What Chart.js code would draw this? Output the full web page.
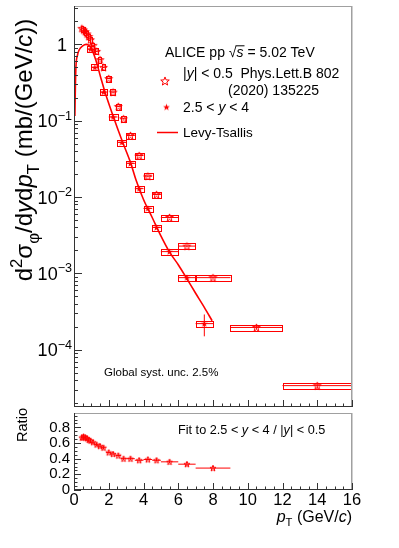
<!DOCTYPE html>
<html>
<head>
<meta charset="utf-8">
<title>phi cross section pp 5.02 TeV</title>
<script src="https://cdn.jsdelivr.net/npm/chart.js@4.4.1/dist/chart.umd.min.js"></script>
<style>
  body { margin: 0; background: #fff; }
  #wrap { position: relative; width: 399px; height: 548px; }
  canvas { position: absolute; left: 0; }
  #top { top: 0; }
  #bot { top: 400px; }
</style>
</head>
<body>
<div id="wrap">
  <canvas id="top" width="399" height="412"></canvas>
  <canvas id="bot" width="399" height="148"></canvas>
</div>
<script>
// |y| < 0.5, Phys.Lett.B 802 (2020) 135225
const midPt   = [0.45, 0.55, 0.65, 0.75, 0.85, 0.95, 1.1, 1.3, 1.5, 1.7, 2.0, 2.25, 2.55, 2.85, 3.25, 3.75, 4.25, 4.75, 5.5, 6.5, 8, 10.5, 14];
const midHalf = [0.05, 0.05, 0.05, 0.05, 0.05, 0.05, 0.1, 0.1, 0.1, 0.1, 0.15, 0.15, 0.15, 0.15, 0.25, 0.25, 0.25, 0.25, 0.5, 0.5, 1, 1.5, 2];
const midVal  = [1.62, 1.55, 1.47, 1.37, 1.27, 1.15, 0.97, 0.81, 0.63, 0.50, 0.357, 0.237, 0.154, 0.106, 0.064, 0.035, 0.0188, 0.0108, 0.0054, 0.00228, 0.00088, 0.000196, 0.0000339];
const midStat = [0.03, 0.03, 0.03, 0.03, 0.02, 0.02, 0.02, 0.015, 0.012, 0.01, 0.007, 0.005, 0.003, 0.002, 0.0013, 0.0007, 0.0004, 0.00025, 0.00012, 0.00006, 0.00003, 0.00001, 0.000003];
const midSys  = [0.14, 0.14, 0.13, 0.12, 0.11, 0.10, 0.087, 0.073, 0.057, 0.045, 0.032, 0.021, 0.014, 0.0095, 0.0058, 0.0032, 0.0017, 0.001, 0.0005, 0.0002, 0.00008, 0.000018, 0.000003];

// 2.5 < y < 4
const fwdPt   = [0.95, 1.2, 1.7, 2.25, 2.75, 3.25, 3.75, 4.25, 4.75, 5.5, 6.5, 7.5];
const fwdHalf = [0.2, 0.2, 0.2, 0.25, 0.25, 0.25, 0.25, 0.25, 0.25, 0.5, 0.5, 0.5];
const fwdVal  = [0.865, 0.50, 0.237, 0.112, 0.052, 0.0276, 0.0129, 0.0071, 0.0040, 0.00193, 0.00088, 0.00022];
const fwdStat = [0.01, 0.006, 0.003, 0.0015, 0.0008, 0.0005, 0.0003, 0.0002, 0.00012, 0.00007, 0.00006, 0.00007];
const fwdSys  = [0.078, 0.045, 0.021, 0.01, 0.0047, 0.0025, 0.0012, 0.00064, 0.00036, 0.00017, 0.00008, 0.00002];

// Levy-Tsallis fit
const fitPt  = [0.05, 0.08, 0.11, 0.2, 0.3, 0.5, 0.7, 0.85, 1.0, 1.25, 1.55, 1.8, 2.27, 2.79, 3.27, 3.56, 4.0, 4.5, 5.0, 5.5, 6.0, 6.5, 7.0, 7.5, 7.95];
const fitVal = [0.115, 0.28, 0.5, 0.72, 0.85, 0.955, 1.0, 0.97, 0.88, 0.63, 0.36, 0.23, 0.112, 0.053, 0.0276, 0.017, 0.0093, 0.0054, 0.0031, 0.0019, 0.0013, 0.00085, 0.00055, 0.00036, 0.00024];

// ratio fit(2.5<y<4) / data(|y|<0.5)
const ratioPt   = [0.45, 0.55, 0.65, 0.75, 0.85, 0.95, 1.1, 1.3, 1.5, 1.7, 2.0, 2.25, 2.55, 2.85, 3.25, 3.75, 4.25, 4.75, 5.5, 6.5, 8];
const ratioHalf = [0.05, 0.05, 0.05, 0.05, 0.05, 0.05, 0.1, 0.1, 0.1, 0.1, 0.15, 0.15, 0.15, 0.15, 0.25, 0.25, 0.25, 0.25, 0.5, 0.5, 1];
const ratioVal  = [0.67, 0.68, 0.67, 0.66, 0.64, 0.63, 0.61, 0.58, 0.56, 0.54, 0.48, 0.46, 0.44, 0.40, 0.40, 0.38, 0.39, 0.38, 0.36, 0.33, 0.28];
const ratioErr  = [0.04, 0.04, 0.04, 0.035, 0.03, 0.03, 0.025, 0.02, 0.02, 0.02, 0.015, 0.015, 0.015, 0.015, 0.015, 0.015, 0.015, 0.015, 0.015, 0.025, 0.015];

const yDecades = [1, 0.1, 0.01, 0.001, 0.0001];
const yDecadeExp = ['', '\u22121', '\u22122', '\u22123', '\u22124'];
const ratioTicks = [0, 0.2, 0.4, 0.6, 0.8];

const RED = '#ff0000';
const FONT = '"Liberation Sans", Arial, sans-serif';
const AXIS = '#333';
const EDGE = '#a0a0a0';

function starImage(r, filled) {
  const s = Math.ceil(2 * r + 3);
  const c = document.createElement('canvas');
  c.width = s; c.height = s;
  const g = c.getContext('2d');
  g.translate(s / 2, s / 2 + r * 0.1);
  g.beginPath();
  for (let i = 0; i < 10; i++) {
    const rr = i % 2 ? r * 0.42 : r;
    const a = -Math.PI / 2 + i * Math.PI / 5;
    g.lineTo(rr * Math.cos(a), rr * Math.sin(a));
  }
  g.closePath();
  if (filled) { g.fillStyle = RED; g.fill(); }
  else { g.strokeStyle = RED; g.lineWidth = 1; g.stroke(); }
  return c;
}
const openStar = starImage(4, false);
const legendStar = starImage(4.5, false);
const fullStar = starImage(3.6, true);
const smallStar = starImage(3.2, false);

// text with sub/superscripts: parts = [[text, kind]], kind '', 'i', 'sup', 'sub', 'ov'
function rich(ctx, x, y, parts, size, align) {
  const fontOf = k => {
    const small = k === 'sup' || k === 'sub';
    const it = (k === 'i' || k === 'ov') ? 'italic ' : '';
    return it + (small ? size * 0.7 : size) + 'px ' + FONT;
  };
  let w = 0;
  for (const [t, k] of parts) { ctx.font = fontOf(k); w += ctx.measureText(t).width; }
  let cx = align === 'right' ? x - w : align === 'center' ? x - w / 2 : x;
  for (const [t, k] of parts) {
    ctx.font = fontOf(k);
    const dy = k === 'sup' ? -size * 0.42 : k === 'sub' ? size * 0.3 : 0;
    const tw = ctx.measureText(t).width;
    ctx.fillText(t, cx, y + dy);
    if (k === 'ov') ctx.fillRect(cx - 1, y - size * 0.8, tw + 2, 1);
    cx += tw;
  }
}

function line(ctx, x0, y0, x1, y1) {
  ctx.beginPath(); ctx.moveTo(x0, y0); ctx.lineTo(x1, y1); ctx.stroke();
}

function drawErrors(ctx, xs, ys, pt, half, val, stat, sys) {
  ctx.strokeStyle = RED;
  ctx.lineWidth = 1;
  for (let i = 0; i < pt.length; i++) {
    const xl = xs.getPixelForValue(pt[i] - half[i]);
    const xr = xs.getPixelForValue(pt[i] + half[i]);
    const xc = xs.getPixelForValue(pt[i]);
    const yc = ys.getPixelForValue(val[i]);
    if (sys) {
      const yt = ys.getPixelForValue(val[i] + sys[i]);
      const yb = ys.getPixelForValue(val[i] - sys[i]);
      ctx.strokeRect(Math.round(xl) + 0.5, Math.round(yt) + 0.5, Math.round(xr - xl), Math.round(yb - yt));
    }
    line(ctx, xl, yc, xr, yc);
    line(ctx, xc, ys.getPixelForValue(val[i] + stat[i]), xc, ys.getPixelForValue(val[i] - stat[i]));
  }
}

function frame(ctx, a) {
  ctx.lineWidth = 1;
  ctx.strokeStyle = EDGE;
  line(ctx, a.left, a.top + 0.5, a.right, a.top + 0.5);
  ctx.lineWidth = 1.5;
  line(ctx, a.right - 0.25, a.top, a.right - 0.25, a.bottom);
  ctx.lineWidth = 1;
  ctx.strokeStyle = AXIS;
  line(ctx, a.left + 0.5, a.top, a.left + 0.5, a.bottom);
  line(ctx, a.left, a.bottom - 0.5, a.right, a.bottom - 0.5);
}

function xTicks(ctx, xs, a) {
  ctx.strokeStyle = AXIS;
  ctx.lineWidth = 1;
  for (let v = 0; v <= 16; v += 0.5) {
    const p = Math.round(xs.getPixelForValue(v)) + 0.5;
    const len = v % 2 === 0 ? 7 : 3.5;
    line(ctx, p, a.bottom, p, a.bottom - len);
  }
}

const topPlugin = {
  id: 'topPlugin',
  beforeDatasetsDraw(chart) {
    const { ctx, chartArea: a, scales: { x, y } } = chart;
    ctx.save();
    ctx.beginPath(); ctx.rect(a.left, a.top, a.right - a.left, a.bottom - a.top); ctx.clip();
    drawErrors(ctx, x, y, midPt, midHalf, midVal, midStat, midSys);
    drawErrors(ctx, x, y, fwdPt, fwdHalf, fwdVal, fwdStat, fwdSys);
    ctx.restore();
  },
  afterDraw(chart) {
    const { ctx, chartArea: a, scales: { x, y } } = chart;
    ctx.save();
    frame(ctx, a);
    xTicks(ctx, x, a);
    // log y ticks
    ctx.strokeStyle = AXIS;
    for (let e = -5; e <= 0; e++) {
      for (let m = 1; m <= 9; m++) {
        const v = m * Math.pow(10, e);
        if (v < y.min || v > y.max) continue;
        const p = Math.round(y.getPixelForValue(v)) + 0.5;
        line(ctx, a.left, p, a.left + (m === 1 ? 8 : 4), p);
      }
    }
    ctx.fillStyle = '#000';
    yDecades.forEach((v, i) => {
      const p = y.getPixelForValue(v);
      if (i === 0) rich(ctx, 67, p + 6.5, [['1', '']], 18, 'right');
      else rich(ctx, 72, p + 6.5, [['10', ''], [yDecadeExp[i], 'sup']], 18, 'right');
    });
    // y title
    ctx.save();
    ctx.translate(32, 150);
    ctx.rotate(-Math.PI / 2);
    rich(ctx, 0, 0, [['d', ''], ['2', 'sup'], ['\u03c3', ''], ['\u03c6', 'sub'], ['/d', ''], ['y', 'i'], ['d', ''], ['p', 'i'], ['T', 'sub'], [' (mb/(GeV/', ''], ['c', 'i'], ['))', '']], 24, 'center');
    ctx.restore();
    // header and legend
    rich(ctx, 165, 56.5, [['ALICE pp ', ''], ['\u221a', ''], ['s', 'ov'], [' = 5.02 TeV', '']], 14);
    ctx.drawImage(legendStar, 165 - legendStar.width / 2, 81 - legendStar.height / 2);
    rich(ctx, 183, 78, [['|', ''], ['y', 'i'], ['| < 0.5  Phys.Lett.B 802', '']], 14);
    rich(ctx, 228, 95, [['(2020) 135225', '']], 14);
    ctx.drawImage(fullStar, 166.5 - fullStar.width / 2, 107 - fullStar.height / 2);
    rich(ctx, 183, 112, [['2.5 < ', ''], ['y', 'i'], [' < 4', '']], 14);
    ctx.strokeStyle = RED; ctx.lineWidth = 1.5;
    line(ctx, 157, 132.5, 178, 132.5);
    rich(ctx, 183, 137, [['Levy-Tsallis', '']], 13.5);
    rich(ctx, 104, 376, [['Global syst. unc. 2.5%', '']], 11.5);
    ctx.restore();
  }
};

const botPlugin = {
  id: 'botPlugin',
  beforeDatasetsDraw(chart) {
    const { ctx, chartArea: a, scales: { x, y } } = chart;
    ctx.save();
    ctx.beginPath(); ctx.rect(a.left, a.top, a.right - a.left, a.bottom - a.top); ctx.clip();
    drawErrors(ctx, x, y, ratioPt, ratioHalf, ratioVal, ratioErr, null);
    ctx.restore();
  },
  afterDraw(chart) {
    const { ctx, chartArea: a, scales: { x, y } } = chart;
    ctx.save();
    frame(ctx, a);
    xTicks(ctx, x, a);
    ctx.strokeStyle = AXIS;
    for (let v = 0; v <= 0.96; v += 0.05) {
      const p = Math.round(y.getPixelForValue(v)) + 0.5;
      const major = Math.abs(v / 0.2 - Math.round(v / 0.2)) < 1e-6;
      line(ctx, a.left, p, a.left + (major ? 7 : 3.5), p);
    }
    ctx.fillStyle = '#000';
    ctx.save();
    ctx.translate(27, 25);
    ctx.rotate(-Math.PI / 2);
    rich(ctx, 0, 0, [['Ratio', '']], 14.6, 'center');
    ctx.restore();
    rich(ctx, 178, 34, [['Fit to 2.5 < ', ''], ['y', 'i'], [' < 4 / |', ''], ['y', 'i'], ['| < 0.5', '']], 12.7);
    rich(ctx, 352, 121.5, [['p', 'i'], ['T', 'sub'], [' (GeV/', ''], ['c', 'i'], [')', '']], 16, 'right');
    ctx.restore();
  }
};

const xy = (xs, ys) => xs.map((v, i) => ({ x: v, y: ys[i] }));

new Chart(document.getElementById('top'), {
  type: 'scatter',
  data: {
    datasets: [
      { label: 'Levy-Tsallis', data: xy(fitPt, fitVal), showLine: true, borderColor: RED, borderWidth: 1.6,
        pointRadius: 0, cubicInterpolationMode: 'monotone', order: 3 },
      { label: '|y| < 0.5', data: xy(midPt, midVal), pointStyle: openStar, pointRadius: 4, order: 2 },
      { label: '2.5 < y < 4', data: xy(fwdPt, fwdVal), pointStyle: fullStar, pointRadius: 3.6, order: 1 }
    ]
  },
  options: {
    responsive: false,
    animation: false,
    layout: { padding: { left: 74, right: 47, top: 6, bottom: 4 } },
    plugins: { legend: { display: false }, tooltip: { enabled: false } },
    scales: {
      x: { type: 'linear', min: 0, max: 16, display: false },
      y: { type: 'logarithmic', min: 1.78e-5, max: 3.18, display: false }
    }
  },
  plugins: [topPlugin]
});

new Chart(document.getElementById('bot'), {
  type: 'scatter',
  data: {
    datasets: [
      { label: 'ratio', data: xy(ratioPt, ratioVal), pointStyle: smallStar, pointRadius: 3.2 }
    ]
  },
  options: {
    responsive: false,
    animation: false,
    layout: { padding: { left: 0, right: 47, top: 8, bottom: 0 } },
    plugins: { legend: { display: false }, tooltip: { enabled: false } },
    scales: {
      x: {
        type: 'linear', min: 0, max: 16,
        grid: { display: false, drawTicks: false }, border: { display: false },
        ticks: { stepSize: 2, padding: 1, maxRotation: 0, autoSkip: false, color: '#000', font: { family: FONT, size: 16.5 } },
        afterFit: s => { s.height = 58; }
      },
      y: {
        type: 'linear', min: 0, max: 0.984,
        grid: { display: false, drawTicks: false }, border: { display: false },
        ticks: { padding: 4, autoSkip: false, color: '#000', font: { family: FONT, size: 15 } },
        afterBuildTicks: s => { s.ticks = ratioTicks.map(v => ({ value: v })); },
        afterFit: s => { s.width = 74; }
      }
    }
  },
  plugins: [botPlugin]
});
</script>
</body>
</html>
